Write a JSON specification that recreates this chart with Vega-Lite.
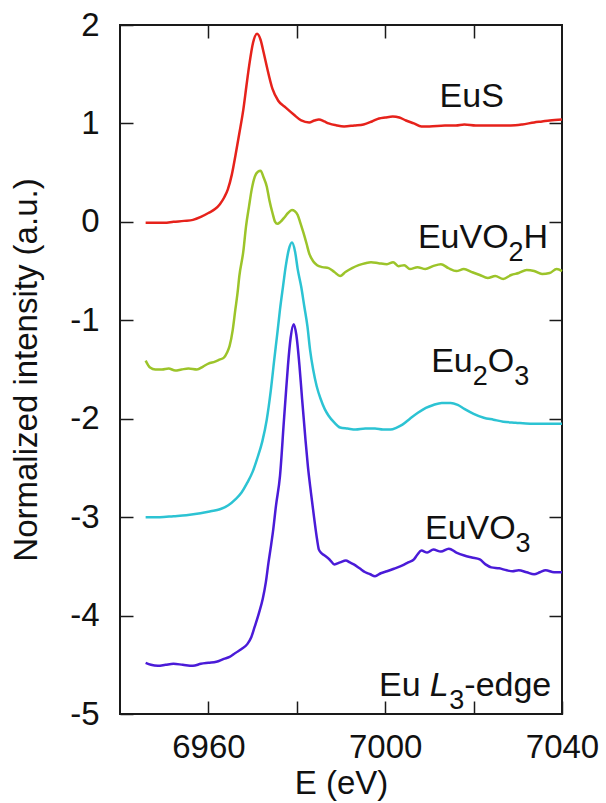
{
  "$schema": "https://vega.github.io/schema/vega-lite/v6.json",
  "width": 442,
  "height": 689,
  "autosize": {"type": "none"},
  "padding": {"left": 120, "top": 25, "right": 44, "bottom": 89},
  "background": "white",
  "config": {
    "view": {"stroke": "#1a1a1a", "strokeWidth": 2},
    "font": "Liberation Sans",
    "axis": {
      "grid": false,
      "domain": false,
      "tickSize": -13,
      "tickColor": "#1a1a1a",
      "tickWidth": 1.5,
      "labelFont": "Liberation Sans",
      "labelFontSize": 33,
      "labelColor": "#111",
      "titleFont": "Liberation Sans",
      "titleFontSize": 33,
      "titleFontWeight": "normal",
      "titleColor": "#111",
      "labelFlush": false,
      "labelOverlap": false
    }
  },
  "datasets": {
    "spectra": [
      {"s":"EuS","E":6945.8,"I":-0.01},{"s":"EuS","E":6950,"I":-0.01},{"s":"EuS","E":6952.1,"I":0.0},{"s":"EuS","E":6954.5,"I":0.01},{"s":"EuS","E":6956.5,"I":0.02},{"s":"EuS","E":6958.3,"I":0.05},{"s":"EuS","E":6960,"I":0.09},{"s":"EuS","E":6961.5,"I":0.13},{"s":"EuS","E":6962.6,"I":0.18},{"s":"EuS","E":6963.6,"I":0.25},{"s":"EuS","E":6964.4,"I":0.33},{"s":"EuS","E":6965.3,"I":0.48},{"s":"EuS","E":6966.1,"I":0.67},{"s":"EuS","E":6967,"I":0.9},{"s":"EuS","E":6967.9,"I":1.14},{"s":"EuS","E":6968.6,"I":1.38},{"s":"EuS","E":6969.2,"I":1.58},{"s":"EuS","E":6970.1,"I":1.82},{"s":"EuS","E":6971,"I":1.91},{"s":"EuS","E":6971.8,"I":1.85},{"s":"EuS","E":6972.5,"I":1.72},{"s":"EuS","E":6973.2,"I":1.58},{"s":"EuS","E":6974.5,"I":1.35},{"s":"EuS","E":6975.8,"I":1.23},{"s":"EuS","E":6977.5,"I":1.16},{"s":"EuS","E":6979.3,"I":1.09},{"s":"EuS","E":6981,"I":1.03},{"s":"EuS","E":6982.8,"I":1.01},{"s":"EuS","E":6984,"I":1.03},{"s":"EuS","E":6985,"I":1.04},{"s":"EuS","E":6986.2,"I":1.02},{"s":"EuS","E":6987.2,"I":1.0},{"s":"EuS","E":6989,"I":0.98},{"s":"EuS","E":6990.7,"I":0.97},{"s":"EuS","E":6993,"I":0.98},{"s":"EuS","E":6995.1,"I":0.99},{"s":"EuS","E":6997,"I":1.02},{"s":"EuS","E":6998.6,"I":1.05},{"s":"EuS","E":7000,"I":1.06},{"s":"EuS","E":7001.7,"I":1.07},{"s":"EuS","E":7003.2,"I":1.06},{"s":"EuS","E":7004.7,"I":1.03},{"s":"EuS","E":7006.5,"I":1.0},{"s":"EuS","E":7008.2,"I":0.97},{"s":"EuS","E":7010,"I":0.97},{"s":"EuS","E":7013.5,"I":0.98},{"s":"EuS","E":7016,"I":0.98},{"s":"EuS","E":7017.9,"I":0.99},{"s":"EuS","E":7020.5,"I":0.98},{"s":"EuS","E":7023.1,"I":0.98},{"s":"EuS","E":7026,"I":0.98},{"s":"EuS","E":7028.4,"I":0.98},{"s":"EuS","E":7031,"I":0.99},{"s":"EuS","E":7033.7,"I":1.01},{"s":"EuS","E":7035.5,"I":1.02},{"s":"EuS","E":7037.2,"I":1.03},{"s":"EuS","E":7040,"I":1.04},

      {"s":"EuVO2H","E":6945.8,"I":-1.41},{"s":"EuVO2H","E":6946.8,"I":-1.48},{"s":"EuVO2H","E":6948,"I":-1.5},{"s":"EuVO2H","E":6949.5,"I":-1.5},{"s":"EuVO2H","E":6951,"I":-1.49},{"s":"EuVO2H","E":6952.5,"I":-1.51},{"s":"EuVO2H","E":6953.9,"I":-1.5},{"s":"EuVO2H","E":6955.5,"I":-1.49},{"s":"EuVO2H","E":6957.4,"I":-1.5},{"s":"EuVO2H","E":6958.8,"I":-1.47},{"s":"EuVO2H","E":6960,"I":-1.44},{"s":"EuVO2H","E":6961.5,"I":-1.42},{"s":"EuVO2H","E":6962.5,"I":-1.4},{"s":"EuVO2H","E":6963.5,"I":-1.38},{"s":"EuVO2H","E":6964.2,"I":-1.33},{"s":"EuVO2H","E":6964.8,"I":-1.26},{"s":"EuVO2H","E":6965.5,"I":-1.1},{"s":"EuVO2H","E":6966.1,"I":-0.89},{"s":"EuVO2H","E":6966.6,"I":-0.72},{"s":"EuVO2H","E":6967,"I":-0.55},{"s":"EuVO2H","E":6967.9,"I":-0.3},{"s":"EuVO2H","E":6968.5,"I":-0.05},{"s":"EuVO2H","E":6969.2,"I":0.16},{"s":"EuVO2H","E":6969.8,"I":0.33},{"s":"EuVO2H","E":6970.5,"I":0.46},{"s":"EuVO2H","E":6971.2,"I":0.51},{"s":"EuVO2H","E":6971.8,"I":0.52},{"s":"EuVO2H","E":6972.5,"I":0.45},{"s":"EuVO2H","E":6973.2,"I":0.36},{"s":"EuVO2H","E":6973.8,"I":0.22},{"s":"EuVO2H","E":6974.5,"I":0.09},{"s":"EuVO2H","E":6975.1,"I":0.0},{"s":"EuVO2H","E":6975.6,"I":-0.02},{"s":"EuVO2H","E":6976.3,"I":0.0},{"s":"EuVO2H","E":6977.1,"I":0.04},{"s":"EuVO2H","E":6978,"I":0.09},{"s":"EuVO2H","E":6978.9,"I":0.12},{"s":"EuVO2H","E":6979.5,"I":0.11},{"s":"EuVO2H","E":6980.2,"I":0.07},{"s":"EuVO2H","E":6980.8,"I":-0.01},{"s":"EuVO2H","E":6981.5,"I":-0.11},{"s":"EuVO2H","E":6982.2,"I":-0.22},{"s":"EuVO2H","E":6982.8,"I":-0.32},{"s":"EuVO2H","E":6983.7,"I":-0.4},{"s":"EuVO2H","E":6984.6,"I":-0.44},{"s":"EuVO2H","E":6985.8,"I":-0.46},{"s":"EuVO2H","E":6987.2,"I":-0.47},{"s":"EuVO2H","E":6988.5,"I":-0.51},{"s":"EuVO2H","E":6989.8,"I":-0.55},{"s":"EuVO2H","E":6991,"I":-0.51},{"s":"EuVO2H","E":6992.5,"I":-0.47},{"s":"EuVO2H","E":6994,"I":-0.44},{"s":"EuVO2H","E":6995.5,"I":-0.42},{"s":"EuVO2H","E":6996.8,"I":-0.41},{"s":"EuVO2H","E":6998.5,"I":-0.42},{"s":"EuVO2H","E":7000.4,"I":-0.43},{"s":"EuVO2H","E":7001.8,"I":-0.41},{"s":"EuVO2H","E":7003,"I":-0.45},{"s":"EuVO2H","E":7004.3,"I":-0.44},{"s":"EuVO2H","E":7005.6,"I":-0.48},{"s":"EuVO2H","E":7007.3,"I":-0.46},{"s":"EuVO2H","E":7009.1,"I":-0.48},{"s":"EuVO2H","E":7010.8,"I":-0.45},{"s":"EuVO2H","E":7012.6,"I":-0.43},{"s":"EuVO2H","E":7014.3,"I":-0.47},{"s":"EuVO2H","E":7016.1,"I":-0.5},{"s":"EuVO2H","E":7017.8,"I":-0.48},{"s":"EuVO2H","E":7019.6,"I":-0.51},{"s":"EuVO2H","E":7021.4,"I":-0.54},{"s":"EuVO2H","E":7023.2,"I":-0.57},{"s":"EuVO2H","E":7024.9,"I":-0.55},{"s":"EuVO2H","E":7026.7,"I":-0.58},{"s":"EuVO2H","E":7028.5,"I":-0.54},{"s":"EuVO2H","E":7030.2,"I":-0.52},{"s":"EuVO2H","E":7032,"I":-0.49},{"s":"EuVO2H","E":7033.7,"I":-0.5},{"s":"EuVO2H","E":7035.5,"I":-0.53},{"s":"EuVO2H","E":7037.2,"I":-0.52},{"s":"EuVO2H","E":7038.8,"I":-0.48},{"s":"EuVO2H","E":7040,"I":-0.5},

      {"s":"Eu2O3","E":6945.8,"I":-3.0},{"s":"Eu2O3","E":6949,"I":-3.0},{"s":"Eu2O3","E":6952.1,"I":-2.99},{"s":"Eu2O3","E":6955,"I":-2.98},{"s":"Eu2O3","E":6958.2,"I":-2.96},{"s":"Eu2O3","E":6960.5,"I":-2.94},{"s":"Eu2O3","E":6962.6,"I":-2.92},{"s":"Eu2O3","E":6964.5,"I":-2.88},{"s":"Eu2O3","E":6966.1,"I":-2.82},{"s":"Eu2O3","E":6967.5,"I":-2.75},{"s":"Eu2O3","E":6968.8,"I":-2.65},{"s":"Eu2O3","E":6970,"I":-2.54},{"s":"Eu2O3","E":6971,"I":-2.41},{"s":"Eu2O3","E":6972.2,"I":-2.23},{"s":"Eu2O3","E":6973.2,"I":-2.01},{"s":"Eu2O3","E":6974.1,"I":-1.72},{"s":"Eu2O3","E":6974.9,"I":-1.4},{"s":"Eu2O3","E":6975.6,"I":-1.13},{"s":"Eu2O3","E":6976.2,"I":-0.89},{"s":"Eu2O3","E":6976.9,"I":-0.65},{"s":"Eu2O3","E":6977.5,"I":-0.45},{"s":"Eu2O3","E":6978.2,"I":-0.28},{"s":"Eu2O3","E":6978.9,"I":-0.21},{"s":"Eu2O3","E":6979.6,"I":-0.3},{"s":"Eu2O3","E":6980.2,"I":-0.48},{"s":"Eu2O3","E":6981,"I":-0.66},{"s":"Eu2O3","E":6981.7,"I":-0.86},{"s":"Eu2O3","E":6982.4,"I":-1.06},{"s":"Eu2O3","E":6983,"I":-1.3},{"s":"Eu2O3","E":6983.7,"I":-1.5},{"s":"Eu2O3","E":6984.5,"I":-1.67},{"s":"Eu2O3","E":6985.4,"I":-1.8},{"s":"Eu2O3","E":6986.3,"I":-1.9},{"s":"Eu2O3","E":6987.2,"I":-1.97},{"s":"Eu2O3","E":6988.5,"I":-2.04},{"s":"Eu2O3","E":6989.8,"I":-2.09},{"s":"Eu2O3","E":6991.5,"I":-2.1},{"s":"Eu2O3","E":6993.3,"I":-2.11},{"s":"Eu2O3","E":6995.5,"I":-2.1},{"s":"Eu2O3","E":6997.7,"I":-2.1},{"s":"Eu2O3","E":6999.5,"I":-2.11},{"s":"Eu2O3","E":7001.2,"I":-2.11},{"s":"Eu2O3","E":7002.6,"I":-2.09},{"s":"Eu2O3","E":7003.9,"I":-2.06},{"s":"Eu2O3","E":7005.6,"I":-2.0},{"s":"Eu2O3","E":7007.4,"I":-1.94},{"s":"Eu2O3","E":7009.2,"I":-1.89},{"s":"Eu2O3","E":7010.9,"I":-1.86},{"s":"Eu2O3","E":7012.8,"I":-1.84},{"s":"Eu2O3","E":7014.8,"I":-1.84},{"s":"Eu2O3","E":7016.4,"I":-1.86},{"s":"Eu2O3","E":7017.9,"I":-1.9},{"s":"Eu2O3","E":7020,"I":-1.95},{"s":"Eu2O3","E":7022.3,"I":-1.99},{"s":"Eu2O3","E":7024.5,"I":-2.01},{"s":"Eu2O3","E":7026.7,"I":-2.03},{"s":"Eu2O3","E":7029.5,"I":-2.04},{"s":"Eu2O3","E":7032.8,"I":-2.05},{"s":"Eu2O3","E":7036,"I":-2.05},{"s":"Eu2O3","E":7040,"I":-2.05},

      {"s":"EuVO3","E":6945.8,"I":-4.48},{"s":"EuVO3","E":6947,"I":-4.5},{"s":"EuVO3","E":6948.6,"I":-4.51},{"s":"EuVO3","E":6950.3,"I":-4.5},{"s":"EuVO3","E":6952.1,"I":-4.49},{"s":"EuVO3","E":6954.2,"I":-4.5},{"s":"EuVO3","E":6956.5,"I":-4.51},{"s":"EuVO3","E":6958.3,"I":-4.49},{"s":"EuVO3","E":6960,"I":-4.48},{"s":"EuVO3","E":6961.8,"I":-4.47},{"s":"EuVO3","E":6963.5,"I":-4.44},{"s":"EuVO3","E":6964.8,"I":-4.42},{"s":"EuVO3","E":6966.1,"I":-4.38},{"s":"EuVO3","E":6967.5,"I":-4.34},{"s":"EuVO3","E":6968.8,"I":-4.29},{"s":"EuVO3","E":6969.7,"I":-4.22},{"s":"EuVO3","E":6970.5,"I":-4.11},{"s":"EuVO3","E":6971.4,"I":-3.98},{"s":"EuVO3","E":6972.3,"I":-3.83},{"s":"EuVO3","E":6973,"I":-3.66},{"s":"EuVO3","E":6973.6,"I":-3.46},{"s":"EuVO3","E":6974.1,"I":-3.31},{"s":"EuVO3","E":6974.6,"I":-3.15},{"s":"EuVO3","E":6975.3,"I":-2.88},{"s":"EuVO3","E":6976.2,"I":-2.58},{"s":"EuVO3","E":6977.1,"I":-2.01},{"s":"EuVO3","E":6977.6,"I":-1.7},{"s":"EuVO3","E":6978,"I":-1.46},{"s":"EuVO3","E":6978.6,"I":-1.18},{"s":"EuVO3","E":6979.3,"I":-1.04},{"s":"EuVO3","E":6979.9,"I":-1.15},{"s":"EuVO3","E":6980.6,"I":-1.46},{"s":"EuVO3","E":6981.2,"I":-1.8},{"s":"EuVO3","E":6981.9,"I":-2.18},{"s":"EuVO3","E":6982.5,"I":-2.48},{"s":"EuVO3","E":6983.2,"I":-2.75},{"s":"EuVO3","E":6983.9,"I":-3.0},{"s":"EuVO3","E":6984.6,"I":-3.23},{"s":"EuVO3","E":6985,"I":-3.33},{"s":"EuVO3","E":6985.7,"I":-3.37},{"s":"EuVO3","E":6986.3,"I":-3.39},{"s":"EuVO3","E":6987.4,"I":-3.43},{"s":"EuVO3","E":6988.5,"I":-3.48},{"s":"EuVO3","E":6989.8,"I":-3.46},{"s":"EuVO3","E":6991.1,"I":-3.44},{"s":"EuVO3","E":6992,"I":-3.46},{"s":"EuVO3","E":6992.9,"I":-3.48},{"s":"EuVO3","E":6994.2,"I":-3.52},{"s":"EuVO3","E":6995.5,"I":-3.56},{"s":"EuVO3","E":6996.6,"I":-3.58},{"s":"EuVO3","E":6997.7,"I":-3.6},{"s":"EuVO3","E":6999,"I":-3.57},{"s":"EuVO3","E":7000.4,"I":-3.55},{"s":"EuVO3","E":7002.2,"I":-3.52},{"s":"EuVO3","E":7003.9,"I":-3.49},{"s":"EuVO3","E":7005.2,"I":-3.46},{"s":"EuVO3","E":7006.5,"I":-3.43},{"s":"EuVO3","E":7007.3,"I":-3.38},{"s":"EuVO3","E":7008.2,"I":-3.34},{"s":"EuVO3","E":7009.5,"I":-3.36},{"s":"EuVO3","E":7010.9,"I":-3.33},{"s":"EuVO3","E":7012.6,"I":-3.35},{"s":"EuVO3","E":7014.4,"I":-3.32},{"s":"EuVO3","E":7016.1,"I":-3.36},{"s":"EuVO3","E":7017.9,"I":-3.39},{"s":"EuVO3","E":7019.6,"I":-3.41},{"s":"EuVO3","E":7021.4,"I":-3.43},{"s":"EuVO3","E":7022.7,"I":-3.48},{"s":"EuVO3","E":7024,"I":-3.51},{"s":"EuVO3","E":7025.8,"I":-3.52},{"s":"EuVO3","E":7027.5,"I":-3.54},{"s":"EuVO3","E":7028.8,"I":-3.55},{"s":"EuVO3","E":7030.2,"I":-3.54},{"s":"EuVO3","E":7032,"I":-3.56},{"s":"EuVO3","E":7033.7,"I":-3.58},{"s":"EuVO3","E":7035,"I":-3.56},{"s":"EuVO3","E":7036.3,"I":-3.54},{"s":"EuVO3","E":7038.2,"I":-3.56},{"s":"EuVO3","E":7040,"I":-3.56}
    ],
    "labels": [
      {"t":"EuS","E":7012.3,"I":1.17},
      {"t":"EuVO","E":7007.4,"I":-0.27},
      {"t":"H","E":7031.3,"I":-0.27},
      {"t":"Eu","E":7010.4,"I":-1.53},
      {"t":"O","E":7023.2,"I":-1.53},
      {"t":"EuVO","E":7009.0,"I":-3.22},
      {"t":"Eu","E":6998.6,"I":-4.82},
      {"t":"-edge","E":7017.9,"I":-4.82}
    ],
    "subscripts": [
      {"t":"2","E":7027.9,"I":-0.27},
      {"t":"2","E":7019.8,"I":-1.53},
      {"t":"3","E":7029.2,"I":-1.53},
      {"t":"3","E":7029.5,"I":-3.22},
      {"t":"3","E":7014.5,"I":-4.82}
    ],
    "italics": [
      {"t":"L","E":7010.1,"I":-4.82}
    ]
  },
  "layer": [
    {
      "data": {"name": "spectra"},
      "mark": {"type": "line", "strokeWidth": 2.5, "interpolate": "monotone"},
      "encoding": {
        "x": {
          "field": "E", "type": "quantitative",
          "scale": {"domain": [6940, 7040], "nice": false, "zero": false},
          "axis": {
            "orient": "bottom",
            "values": [6960, 6980, 7000, 7020, 7040],
            "labelExpr": "datum.value % 40 === 0 ? '' + datum.value : ''",
            "labelPadding": 30,
            "title": "E (eV)",
            "titlePadding": 3
          }
        },
        "y": {
          "field": "I", "type": "quantitative",
          "scale": {"domain": [-5, 2], "nice": false, "zero": false},
          "axis": {
            "orient": "left",
            "values": [-5, -4, -3, -2, -1, 0, 1, 2],
            "labelExpr": "'' + datum.value",
            "labelPadding": 34,
            "title": "Normalized intensity (a.u.)",
            "titlePadding": 26
          }
        },
        "color": {
          "field": "s", "type": "nominal",
          "scale": {"domain": ["EuS", "EuVO2H", "Eu2O3", "EuVO3"], "range": ["#e6221b", "#9cc42a", "#2cc3d3", "#4a1bd8"]},
          "legend": null
        }
      }
    },
    {
      "data": {"name": "labels"},
      "mark": {"type": "text", "align": "left", "baseline": "alphabetic", "fontSize": 34, "font": "Liberation Sans", "color": "#111"},
      "encoding": {
        "x": {
          "field": "E", "type": "quantitative",
          "scale": {"domain": [6940, 7040], "nice": false, "zero": false},
          "axis": {"orient": "top", "values": [6960, 6980, 7000, 7020], "labels": false, "title": null}
        },
        "y": {
          "field": "I", "type": "quantitative",
          "scale": {"domain": [-5, 2], "nice": false, "zero": false},
          "axis": {"orient": "right", "values": [-4, -3, -2, -1, 0, 1], "labels": false, "title": null}
        },
        "text": {"field": "t"}
      }
    },
    {
      "data": {"name": "subscripts"},
      "mark": {"type": "text", "align": "left", "baseline": "alphabetic", "fontSize": 27, "dy": 13, "font": "Liberation Sans", "color": "#111"},
      "encoding": {
        "x": {"field": "E", "type": "quantitative", "scale": {"domain": [6940, 7040], "nice": false, "zero": false}, "axis": null},
        "y": {"field": "I", "type": "quantitative", "scale": {"domain": [-5, 2], "nice": false, "zero": false}, "axis": null},
        "text": {"field": "t"}
      }
    },
    {
      "data": {"name": "italics"},
      "mark": {"type": "text", "align": "left", "baseline": "alphabetic", "fontSize": 34, "fontStyle": "italic", "font": "Liberation Sans", "color": "#111"},
      "encoding": {
        "x": {"field": "E", "type": "quantitative", "scale": {"domain": [6940, 7040], "nice": false, "zero": false}, "axis": null},
        "y": {"field": "I", "type": "quantitative", "scale": {"domain": [-5, 2], "nice": false, "zero": false}, "axis": null},
        "text": {"field": "t"}
      }
    }
  ],
  "resolve": {"axis": {"x": "independent", "y": "independent"}}
}
